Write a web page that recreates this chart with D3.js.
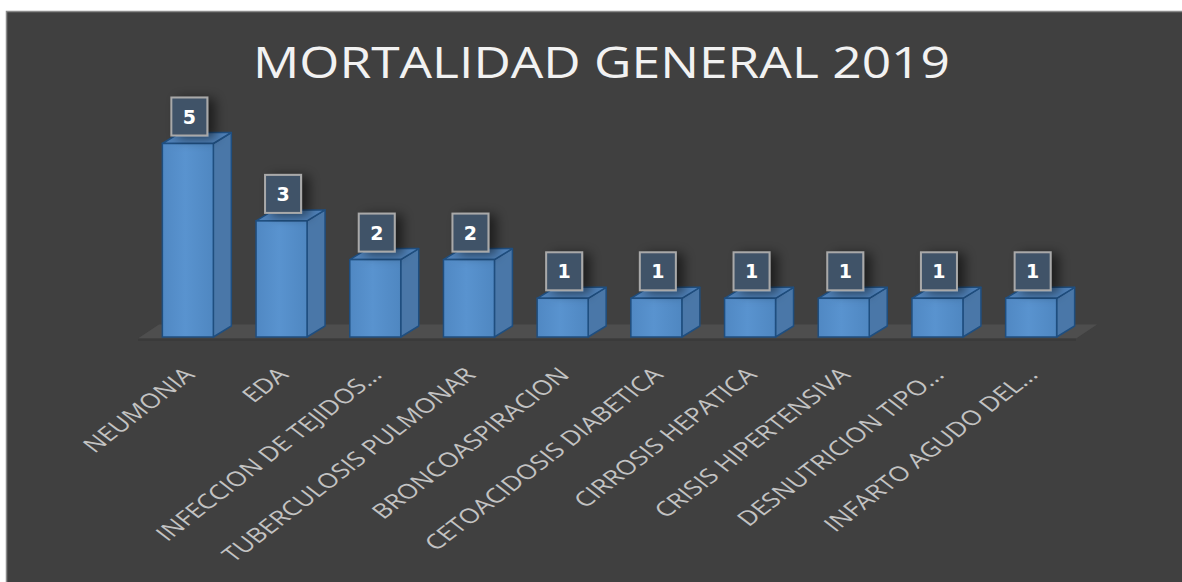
<!DOCTYPE html>
<html>
<head>
<meta charset="utf-8">
<script src="https://cdn.jsdelivr.net/npm/d3@7"></script>
<style>
  html, body { margin: 0; padding: 0; background: #ffffff; }
  svg { display: block; }
</style>
</head>
<body>
<svg id="chart" width="1182" height="582"></svg>
<script>
// ---- data ----
const title = "MORTALIDAD GENERAL 2019";
const categories = [
  "NEUMONIA",
  "EDA",
  "INFECCION DE TEJIDOS...",
  "TUBERCULOSIS PULMONAR",
  "BRONCOASPIRACION",
  "CETOACIDOSIS DIABETICA",
  "CIRROSIS HEPATICA",
  "CRISIS HIPERTENSIVA",
  "DESNUTRICION TIPO...",
  "INFARTO AGUDO DEL..."
];
const values = [5, 3, 2, 2, 1, 1, 1, 1, 1, 1];

// ---- layout ----
const W = 1182, H = 582;
const svg = d3.select("#chart");
const defs = svg.append("defs");

// background panel
svg.append("rect")
  .attr("x", 6.5).attr("y", 11.5)
  .attr("width", W).attr("height", H)
  .attr("fill", "#404040")
  .attr("stroke", "#8a8a8a").attr("stroke-width", 1.5);

// title
svg.append("text")
  .attr("x", 253).attr("y", 78)
  .attr("textLength", 697)
  .attr("lengthAdjust", "spacingAndGlyphs")
  .attr("font-family", "'Open Sans', sans-serif")
  .attr("font-size", 43)
  .attr("fill", "#f2f2f2")
  .text(title);

// scales
const x = d3.scaleBand()
  .domain(categories)
  .range([141, 1078])
  .paddingInner(0.456)
  .paddingOuter(0.228);
const y = d3.scaleLinear().domain([0, 5]).range([337, 143.5]);

const DX = 18, DY = -11; // depth offset

// floor
const fx0 = x.range()[0] - 3, fx1 = x.range()[1] - 2;
const floorY = y(0) + 1.5;
svg.append("path")
  .attr("d", `M${fx0},${floorY} L${fx0 + 21},${floorY - 14} L${fx1 + 21},${floorY - 14} L${fx1},${floorY} Z`)
  .attr("fill", "#4e4e4e");
svg.append("rect")
  .attr("x", fx0).attr("y", floorY)
  .attr("width", fx1 - fx0).attr("height", 2.5)
  .attr("fill", "#3a3a3a");

// gradients
const gFront = defs.append("linearGradient").attr("id", "gFront")
  .attr("x1", "0").attr("x2", "1").attr("y1", "0").attr("y2", "0");
gFront.append("stop").attr("offset", "0").attr("stop-color", "#5088c3");
gFront.append("stop").attr("offset", "0.45").attr("stop-color", "#5993cf");
gFront.append("stop").attr("offset", "1").attr("stop-color", "#4f87c1");

const shadow = defs.append("filter").attr("id", "lblShadow")
  .attr("x", "-50%").attr("y", "-50%").attr("width", "220%").attr("height", "220%");
shadow.append("feDropShadow")
  .attr("dx", 7).attr("dy", 2).attr("stdDeviation", 6)
  .attr("flood-color", "#000").attr("flood-opacity", 0.55);

const data = categories.map((c, i) => ({ c, v: values[i] }));
const bw = x.bandwidth();

const bars = svg.append("g").selectAll("g.bar").data(data).join("g").attr("class", "bar");

// side face
bars.append("path")
  .attr("d", d => {
    const x1 = x(d.c) + bw, yt = y(d.v), yb = y(0);
    return `M${x1},${yt} L${x1 + DX},${yt + DY} L${x1 + DX},${yb + DY} L${x1},${yb} Z`;
  })
  .attr("fill", "#4a77a8").attr("stroke", "#1f4e7f").attr("stroke-width", 1.5)
  .attr("stroke-linejoin", "round");

// top face
bars.append("path")
  .attr("d", d => {
    const x0 = x(d.c), x1 = x0 + bw, yt = y(d.v);
    return `M${x0},${yt} L${x0 + DX},${yt + DY} L${x1 + DX},${yt + DY} L${x1},${yt} Z`;
  })
  .attr("fill", "#4f81b8").attr("stroke", "#1f4e7f").attr("stroke-width", 1.5)
  .attr("stroke-linejoin", "round");

// front face
bars.append("rect")
  .attr("x", d => x(d.c))
  .attr("y", d => y(d.v))
  .attr("width", bw)
  .attr("height", d => y(0) - y(d.v))
  .attr("fill", "url(#gFront)")
  .attr("stroke", "#1f4e7f").attr("stroke-width", 1.5);

// data labels
const lbl = svg.append("g").selectAll("g.dl").data(data).join("g").attr("class", "dl")
  .attr("transform", d => `translate(${x(d.c) + bw / 2 + 1.5},${y(d.v) - 8})`);
lbl.append("rect")
  .attr("x", -18).attr("y", -38).attr("width", 36).attr("height", 38)
  .attr("fill", "#405267")
  .attr("stroke", "#a9a9a9").attr("stroke-width", 2)
  .attr("filter", "url(#lblShadow)");
lbl.append("text")
  .attr("x", 0).attr("y", -12)
  .attr("text-anchor", "middle")
  .attr("font-family", "'DejaVu Sans', sans-serif")
  .attr("font-weight", "bold")
  .attr("font-size", 19)
  .attr("fill", "#ffffff")
  .text(d => d.v);

// category axis labels (rotated, horizontally stretched like reference)
svg.append("g").selectAll("text.cat").data(categories).join("text")
  .attr("class", "cat")
  .attr("transform", c => `translate(${x(c) + bw / 2 + 8},${376}) scale(1.3,1) rotate(-45)`)
  .attr("text-anchor", "end")
  .attr("font-family", "'Open Sans', sans-serif")
  .attr("font-size", 20.5)
  .attr("fill", "#c3c3c3")
  .text(c => c);
</script>
</body>
</html>
